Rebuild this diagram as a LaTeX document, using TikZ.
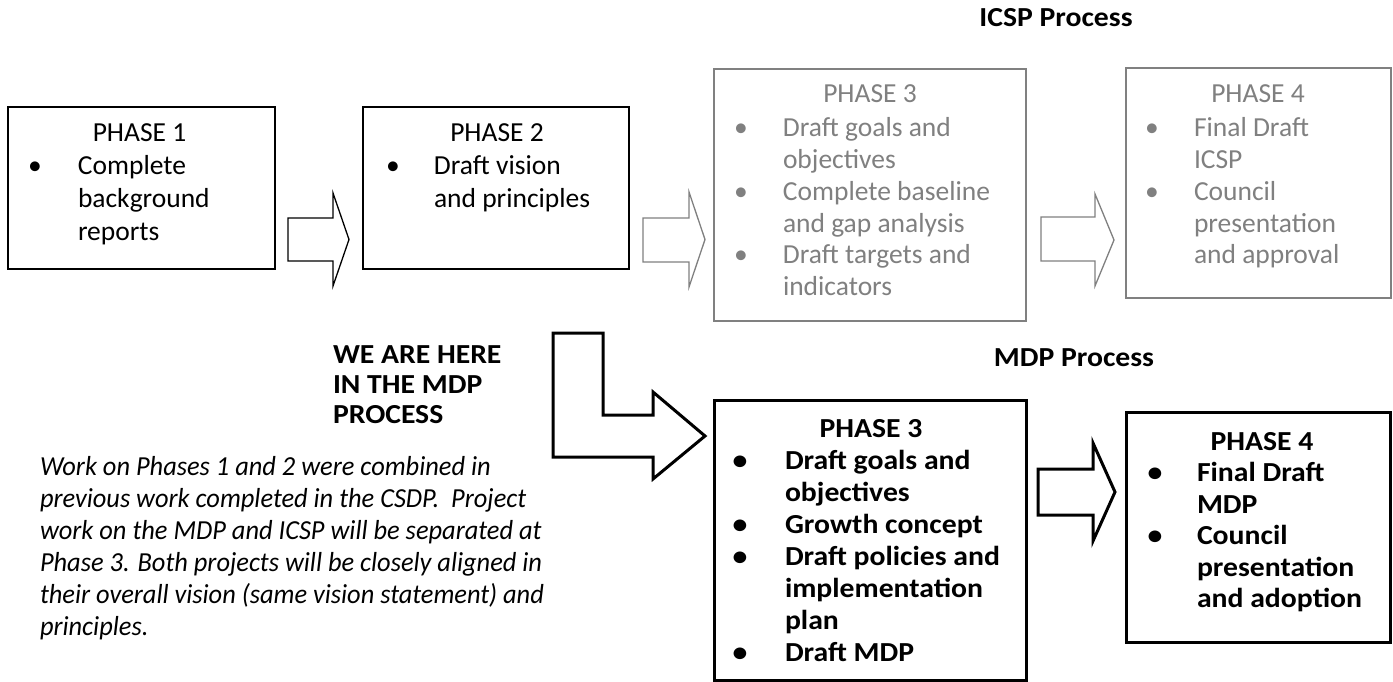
\documentclass[tikz,border=0pt]{standalone}
\usepackage{fontspec}
\setmainfont{Carlito}
\newfontfamily\bfam{Carlito}[FakeStretch=1.08]
\newfontfamily\ifam{Carlito}[FakeStretch=0.96]
\definecolor{ggray}{RGB}{128,128,128}
\newcommand\fsA{\fontsize{27.5}{33}\selectfont}
\newcommand\fsB{\fontsize{27.5}{31.7}\selectfont}
\newcommand\fsC{\fontsize{27.5}{32}\selectfont}
\newcommand\fsD{\fontsize{27.5}{31.5}\selectfont}
\newcommand\fsE{\fontsize{27.5}{30}\selectfont}
\newcommand\bl[1]{\makebox[0pt]{\textbullet}\hspace*{#1pt}}
\newcommand\nb[1]{\hspace*{#1pt}}
\begin{document}
\begin{tikzpicture}[x=1pt,y=-1pt,
  blackbox/.style={draw=black, line width=2pt, inner sep=0pt, outer sep=0pt},
  boldbox/.style={draw=black, line width=3pt, inner sep=0pt, outer sep=0pt},
  graybox/.style={draw=ggray, line width=1.5pt, inner sep=0pt, outer sep=0pt},
  txt/.style={inner sep=0pt, outer sep=0pt, anchor=base west},
  head/.style={inner sep=0pt, outer sep=0pt, anchor=base},
  blockarrow/.style={draw=black, line width=1.3pt, fill=white},
  grayarrow/.style={draw=ggray, line width=1.3pt, fill=white},
  boldarrow/.style={draw=black, line width=3pt, fill=white}]
\useasboundingbox (0,0) rectangle (1393,682);
\fill[white] (0,0) rectangle (1393,682);

% titles
\node[head, font=\fsC\bfam\bfseries] (icsp) at (1056,27) {ICSP Process};
\node[head, font=\fsC\bfam\bfseries] (mdp) at (1074,366) {MDP Process};

% ICSP row boxes
\node[blackbox, minimum width=267, minimum height=162] (p1) at (141.5,188) {};
\node[blackbox, minimum width=266, minimum height=162] (p2) at (496,188) {};
\node[graybox, minimum width=312, minimum height=252] (g3) at (870,195) {};
\node[graybox, minimum width=265, minimum height=230] (g4) at (1258.5,183) {};

% MDP row boxes
\node[boldbox, minimum width=312, minimum height=280] (m3) at (870,540) {};
\node[boldbox, minimum width=264, minimum height=230] (m4) at (1258,527) {};

% arrows
\draw[blockarrow] (288,218) -- (333,218) -- (333,193) -- (349,239.5) -- (333,286) -- (333,261) -- (288,261) -- cycle;
\draw[grayarrow] (643,218) -- (689,218) -- (689,192) -- (705,239.5) -- (689,287) -- (689,262) -- (643,262) -- cycle;
\draw[grayarrow] (1041,217) -- (1095,217) -- (1095,194) -- (1114,240) -- (1095,286) -- (1095,261) -- (1041,261) -- cycle;
\draw[boldarrow] (1038,469) -- (1093,469) -- (1093,443) -- (1115,492) -- (1093,541) -- (1093,515) -- (1038,515) -- cycle;
\draw[boldarrow] (553,333) -- (603,333) -- (603,415) -- (653,415) -- (653,392) -- (705,436) -- (653,479) -- (653,457) -- (553,457) -- cycle;

% box texts
\node[head, font=\fsA] (p1h) at (139.5,142) {PHASE 1};
\node[txt, font=\fsA] (p1t) at (35,175) {\begin{tabular}[t]{@{}l@{}}\bl{43}Complete\\ \nb{43}background\\ \nb{43}reports\end{tabular}};

\node[head, font=\fsA] (p2h) at (497,142) {PHASE 2};
\node[txt, font=\fsA] (p2t) at (393,175) {\begin{tabular}[t]{@{}l@{}}\bl{41}Draft vision\\ \nb{41}and principles\end{tabular}};

\node[head, font=\fsB, text=ggray] (g3h) at (870,103) {PHASE 3};
\node[txt, font=\fsB, text=ggray] (g3t) at (741,137) {\begin{tabular}[t]{@{}l@{}}\bl{42}Draft goals and\\ \nb{42}objectives\\ \bl{42}Complete baseline\\ \nb{42}and gap analysis\\ \bl{42}Draft targets and\\ \nb{42}indicators\end{tabular}};

\node[head, font=\fsB, text=ggray] (g4h) at (1258,103) {PHASE 4};
\node[txt, font=\fsB, text=ggray] (g4t) at (1152,137) {\begin{tabular}[t]{@{}l@{}}\bl{42}Final Draft\\ \nb{42}ICSP\\ \bl{42}Council\\ \nb{42}presentation\\ \nb{42}and approval\end{tabular}};

\node[head, font=\fsC\bfam\bfseries] (m3h) at (871,437) {PHASE 3};
\node[txt, font=\fsC\bfam\bfseries] (m3t) at (740,469) {\begin{tabular}[t]{@{}l@{}}\bl{45}Draft goals and\\ \nb{45}objectives\\ \bl{45}Growth concept\\ \bl{45}Draft policies and\\ \nb{45}implementation\\ \nb{45}plan\\ \bl{45}Draft MDP\end{tabular}};

\node[head, font=\fsD\bfam\bfseries] (m4h) at (1262,450) {PHASE 4};
\node[txt, font=\fsD\bfam\bfseries] (m4t) at (1155,481.5) {\begin{tabular}[t]{@{}l@{}}\bl{42}Final Draft\\ \nb{42}MDP\\ \bl{42}Council\\ \nb{42}presentation\\ \nb{42}and adoption\end{tabular}};

% side texts
\node[txt, font=\fsE\bfam\bfseries] (here) at (333,363) {\begin{tabular}[t]{@{}l@{}}WE ARE HERE\\ IN THE MDP\\ PROCESS\end{tabular}};
\node[txt, font=\fsC\ifam\itshape] (note) at (40,475) {\begin{tabular}[t]{@{}l@{}}Work on Phases 1 and 2 were combined in\\ previous work completed in the CSDP.\ \ Project\\ work on the MDP and ICSP will be separated at\\ Phase 3. Both projects will be closely aligned in\\ their overall vision (same vision statement) and\\ principles.\end{tabular}};
\end{tikzpicture}
\end{document}
